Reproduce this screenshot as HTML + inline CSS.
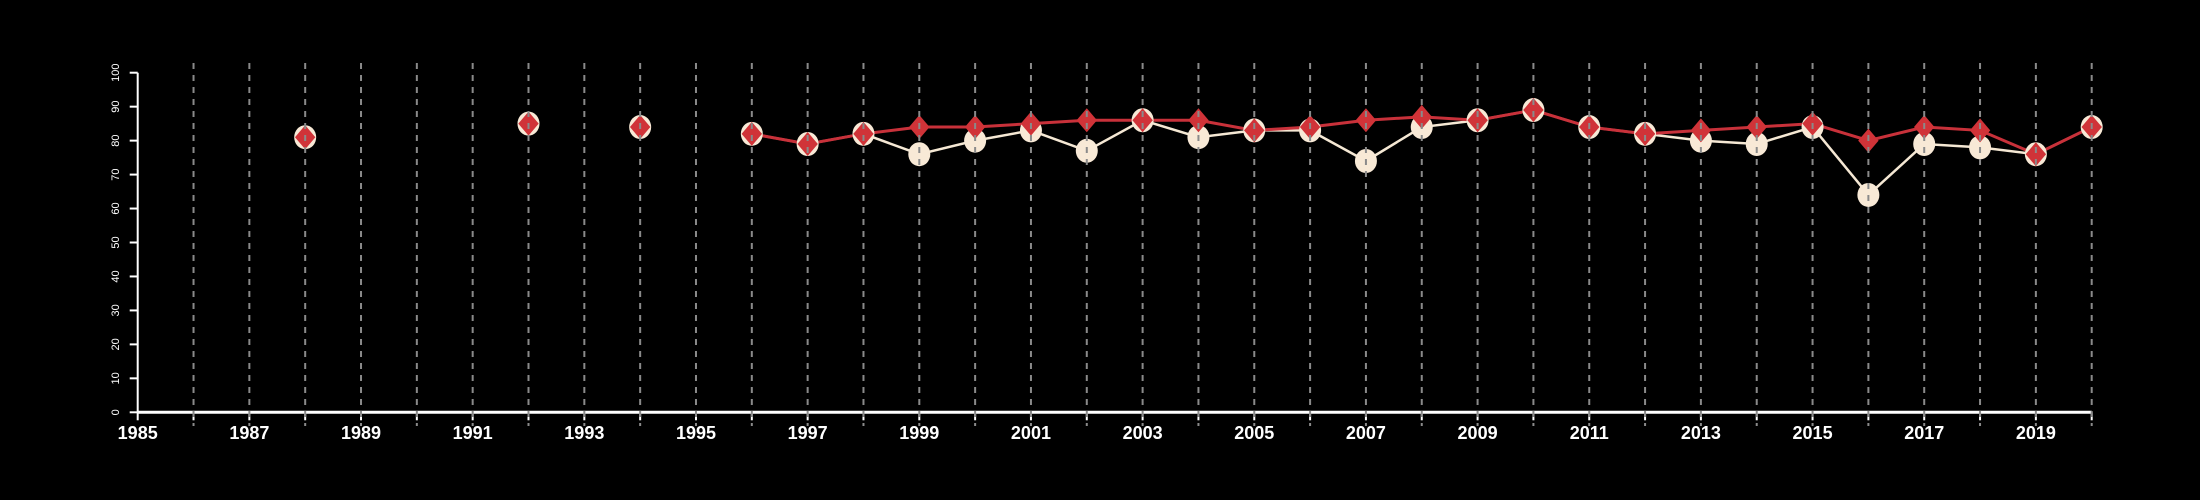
<!DOCTYPE html>
<html><head><meta charset="utf-8"><style>
html,body{margin:0;padding:0;background:#000;}
svg{display:block;font-family:"Liberation Sans",Arial,sans-serif;}
</style></head><body>
<svg id="chart" width="2200" height="500" viewBox="0 0 2200 500" xmlns="http://www.w3.org/2000/svg">
<rect width="2200" height="500" fill="#000"/>
<g id="axes"></g>
<g id="series"></g>
<g id="grid"></g>
</svg>
<script>
const years = [1988,1992,1994,1996,1997,1998,1999,2000,2001,2002,2003,2004,2005,2006,2007,2008,2009,2010,2011,2012,2013,2014,2015,2016,2017,2018,2019,2020];
const redValues = [81,85,84,82,79,82,84,84,85,86,86,86,83,84,86,87,86,89,84,82,83,84,85,80,84,83,76,84];
const whiteValues = [81,85,84,82,79,82,76,80,83,77,86,81,83,83,74,84,86,89,84,82,80,79,84,64,79,78,76,84];
const yTicks = [0,10,20,30,40,50,60,70,80,90,100];
const xTickLabels = [1985,1987,1989,1991,1993,1995,1997,1999,2001,2003,2005,2007,2009,2011,2013,2015,2017,2019];

const NS = "http://www.w3.org/2000/svg";
const X0 = 137.7, X1 = 2091.7, XMIN = 1985, XMAX = 2020;
const Y0 = 412.3, Y1 = 72.7;
const xs = v => X0 + (v - XMIN) * (X1 - X0) / (XMAX - XMIN);
const ys = v => Y0 - v * (Y0 - Y1) / 100;
function mk(tag, attrs, parent){const e=document.createElementNS(NS,tag);for(const k in attrs)e.setAttribute(k,attrs[k]);parent.appendChild(e);return e;}
const grid=document.getElementById('grid'), axes=document.getElementById('axes'), series=document.getElementById('series');

for(let y=XMIN+1;y<=XMAX;y++){
  const l=mk('line',{x1:xs(y),x2:xs(y),y1:63,y2:426,stroke:'#8a8a8a','stroke-width':2,'stroke-dasharray':'6,6'},grid);
  
  
}
const xa=mk('line',{x1:X0,x2:X1,y1:Y0,y2:Y0,stroke:'#fff','stroke-width':3},axes);


const ya=mk('line',{x1:X0,x2:X0,y1:Y0,y2:Y1,stroke:'#fff','stroke-width':2},axes);


for(let y=XMIN;y<=XMAX;y++){
  const t=mk('line',{x1:xs(y),x2:xs(y),y1:Y0,y2:Y0+8,stroke:'#fff','stroke-width':2},axes);
  
  
}
xTickLabels.forEach(v=>{
  const t=mk('text',{x:xs(v),y:439,'text-anchor':'middle',fill:'#fff','font-size':18,'font-weight':'bold'},axes);
  t.textContent=v;
  
  
});
yTicks.forEach(v=>{
  const tk=mk('line',{x1:X0-8,x2:X0,y1:ys(v),y2:ys(v),stroke:'#fff','stroke-width':2},axes);
  
  
  const t=mk('text',{x:0,y:0,'text-anchor':'middle',fill:'#fff','font-size':11,transform:`translate(119,${ys(v)}) rotate(-90)`},axes);
  t.textContent=v;
  
  
});

function linePts(vals){
  const pts=[];years.forEach((y,i)=>{if(y>=1996)pts.push(xs(y)+','+ys(vals[i]));});return pts.join(' ');
}
const wl=mk('polyline',{points:linePts(whiteValues),fill:'none',stroke:'#f5e8d4','stroke-width':2.5},series);


const rl=mk('polyline',{points:linePts(redValues),fill:'none',stroke:'#c8313a','stroke-width':3},series);


years.forEach((y,i)=>{
  const c=mk('ellipse',{cx:xs(y),cy:ys(whiteValues[i]),rx:11,ry:12,fill:'#f8e9d6'},series);
  
  
});
years.forEach((y,i)=>{
  const cx=xs(y), cy=ys(redValues[i]), r=12;
  const d=mk('polygon',{points:`${cx},${cy-r} ${cx+r*0.85},${cy} ${cx},${cy+r} ${cx-r*0.85},${cy}`,fill:'#d03338'},series);
  
  
});
</script>
</body></html>
